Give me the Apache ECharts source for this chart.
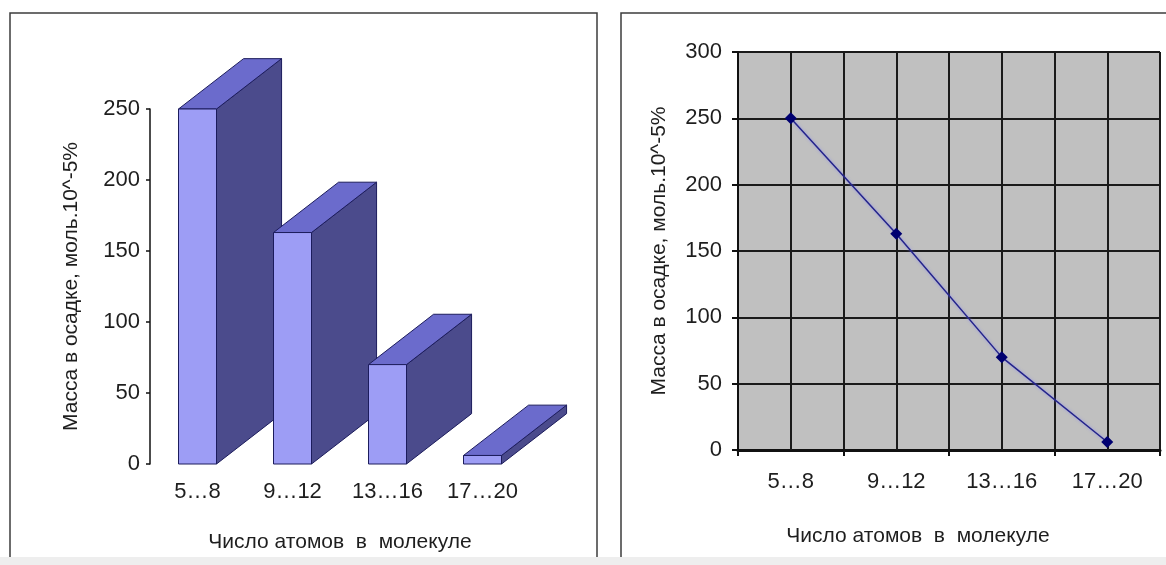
<!DOCTYPE html>
<html>
<head>
<meta charset="utf-8">
<script src="https://cdn.jsdelivr.net/npm/echarts@6/dist/echarts.min.js"></script>
<style>
html,body{margin:0;padding:0;background:#fff;}
#chart{width:1166px;height:565px;}
</style>
</head>
<body>
<div id="chart"></div>
<script>
const categories = ['5…8', '9…12', '13…16', '17…20'];
const values = [250, 163, 70, 6];
const yTitle = 'Масса в осадке, моль.10^-5%';
const xTitle = 'Число атомов  в  молекуле';
const leftMax = 250;
const rightMax = 300;
const tickStep = 50;

const FONT = "'Liberation Sans', Arial, sans-serif";
const TXT = '#1e1e1e';
const LBL = 22;
const NAME = 21;

function renderBar(params, api) {
  const idx = api.value(0);
  const v = api.value(1);
  const top = api.coord([idx, v]);
  const base = api.coord([idx, 0]);
  const band = api.size([1, 0])[0];
  const w = band * 0.4;
  const x0 = top[0] - w / 2;
  const x1 = x0 + w;
  const yT = top[1], yB = base[1];
  const dx = band * 0.685, dy = -band * 0.53;
  const stroke = '#1c1c5c';
  return {
    type: 'group',
    children: [
      { type: 'polygon', shape: { points: [[x1, yT], [x1 + dx, yT + dy], [x1 + dx, yB + dy], [x1, yB]] },
        style: { fill: '#4b4b8c', stroke: stroke, lineWidth: 1 } },
      { type: 'polygon', shape: { points: [[x0, yT], [x0 + dx, yT + dy], [x1 + dx, yT + dy], [x1, yT]] },
        style: { fill: '#6b6bcc', stroke: stroke, lineWidth: 1 } },
      { type: 'rect', shape: { x: x0, y: yT, width: w, height: yB - yT },
        style: { fill: '#9d9df5', stroke: stroke, lineWidth: 1 } }
    ]
  };
}

const chart = echarts.init(document.getElementById('chart'), null, { renderer: 'canvas' });
const option = {
  animation: false,
  textStyle: { fontFamily: FONT, color: TXT },
  graphic: [
    { type: 'rect', z: -10, shape: { x: 0, y: 557, width: 1166, height: 8 }, style: { fill: '#eeeeee' } },
    { type: 'polyline', z: -5, shape: { points: [[10, 557], [10, 13], [597, 13], [597, 557]] },
      style: { fill: null, stroke: '#3c3c3c', lineWidth: 1.5 } },
    { type: 'polyline', z: -5, shape: { points: [[621, 557], [621, 13], [1166, 13]] },
      style: { fill: null, stroke: '#3c3c3c', lineWidth: 1.5 } }
  ],
  grid: [
    { left: 150, top: 109, width: 380, height: 355 },
    { left: 738, top: 52, width: 422, height: 398, show: true, backgroundColor: '#c0c0c0', borderWidth: 0 }
  ],
  xAxis: [
    {
      gridIndex: 0, type: 'category', data: categories,
      axisLine: { show: false }, axisTick: { show: false }, splitLine: { show: false },
      axisLabel: { margin: 17, fontSize: LBL, color: TXT, fontFamily: FONT },
      name: xTitle, nameLocation: 'middle', nameGap: 68,
      nameTextStyle: { fontSize: NAME, color: TXT, fontFamily: FONT }
    },
    {
      gridIndex: 1, type: 'category', data: categories, boundaryGap: true,
      axisLine: { show: true, lineStyle: { color: '#111', width: 3 } },
      axisTick: { show: true, length: 6, lineStyle: { color: '#111', width: 2 } },
      splitLine: { show: true, lineStyle: { color: '#1a1a1a', width: 2 } },
      axisLabel: { margin: 21, fontSize: LBL, color: TXT, fontFamily: FONT },
      name: xTitle, nameLocation: 'middle', nameGap: 76,
      nameTextStyle: { fontSize: NAME, color: TXT, fontFamily: FONT, padding: [0, 62, 0, 0] }
    }
  ],
  yAxis: [
    {
      gridIndex: 0, type: 'value', min: 0, max: leftMax, interval: tickStep,
      axisLine: { show: true, lineStyle: { color: '#111', width: 1.5 } },
      axisTick: { show: true, length: 4, lineStyle: { color: '#111', width: 1.5 } },
      splitLine: { show: false },
      axisLabel: { margin: 10, fontSize: LBL, color: TXT, fontFamily: FONT },
      name: yTitle, nameLocation: 'middle', nameGap: 68, nameRotate: 90,
      nameTextStyle: { fontSize: NAME, color: TXT, fontFamily: FONT }
    },
    {
      gridIndex: 1, type: 'value', min: 0, max: rightMax, interval: tickStep,
      axisLine: { show: true, lineStyle: { color: '#111', width: 2 } },
      axisTick: { show: true, length: 6, lineStyle: { color: '#111', width: 2 } },
      splitLine: { show: true, lineStyle: { color: '#1a1a1a', width: 2 } },
      axisLabel: { margin: 16, fontSize: LBL, color: TXT, fontFamily: FONT },
      name: yTitle, nameLocation: 'middle', nameGap: 68, nameRotate: 90,
      nameTextStyle: { fontSize: NAME, color: TXT, fontFamily: FONT }
    }
  ],
  series: [
    {
      type: 'custom', xAxisIndex: 0, yAxisIndex: 0,
      renderItem: renderBar,
      data: values.map((v, i) => [i, v]),
      clip: false
    },
    {
      type: 'line', xAxisIndex: 1, yAxisIndex: 1, data: [], z: 1, silent: true,
      markLine: {
        silent: true, symbol: 'none', label: { show: false },
        lineStyle: { color: '#1a1a1a', width: 2, type: 'solid' },
        data: categories.map(c => ({ xAxis: c }))
      }
    },
    {
      type: 'line', xAxisIndex: 1, yAxisIndex: 1, z: 5,
      data: values,
      symbol: 'diamond', symbolSize: 12,
      itemStyle: { color: '#000070' },
      lineStyle: { color: '#24248a', width: 1.5, shadowColor: 'rgba(120,120,255,0.7)', shadowBlur: 3 }
    }
  ]
};
chart.setOption(option);
</script>
</body>
</html>
